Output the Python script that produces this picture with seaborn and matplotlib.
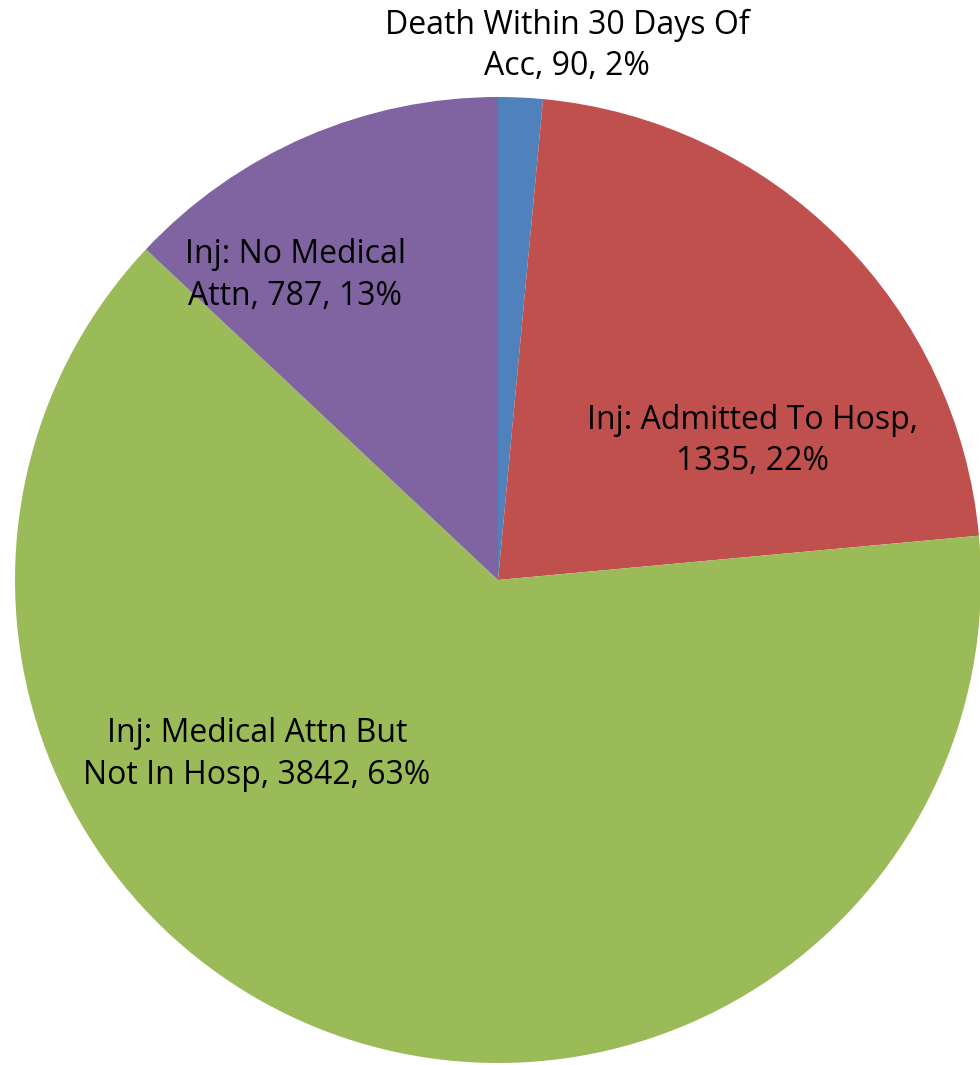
import seaborn as sns
import matplotlib.pyplot as plt

# data
values = [90, 1335, 3842, 787]
percents = [2, 22, 63, 13]  # as shown on the chart labels
colors = ["#4F81BD", "#C0504D", "#9BBB59", "#8064A2"]

sns.set_theme(style="white")
plt.rcParams['font.family'] = ['Open Sans', 'DejaVu Sans']

fig = plt.figure(figsize=(9.8, 10.65), dpi=100)
# pie centre (498, 580) px, radius 483 px
ax = fig.add_axes([15 / 980, (1065 - 580 - 483) / 1065, 966 / 980, 966 / 1065])

ax.pie(values, colors=colors, startangle=90, counterclock=False,
       radius=1, wedgeprops=dict(linewidth=0))
ax.set_xlim(-1, 1)
ax.set_ylim(-1, 1)
ax.set_aspect("equal")
ax.axis("off")

labels = [
    f"Death Within 30 Days Of\nAcc, {values[0]}, {percents[0]}%",
    f"Inj: Admitted To Hosp,\n{values[1]}, {percents[1]}%",
    f"Inj: Medical Attn But\nNot In Hosp, {values[2]}, {percents[2]}%",
    f"Inj: No Medical\nAttn, {values[3]}, {percents[3]}%",
]
label_pos = [(0.143, 1.106), (0.526, 0.288), (-0.499, -0.362), (-0.420, 0.631)]
for txt, (x, y) in zip(labels, label_pos):
    ax.text(x, y, txt, ha="center", va="center", fontsize=23,
            color="black", linespacing=1.35)

fig.savefig("out.png", dpi=100)
